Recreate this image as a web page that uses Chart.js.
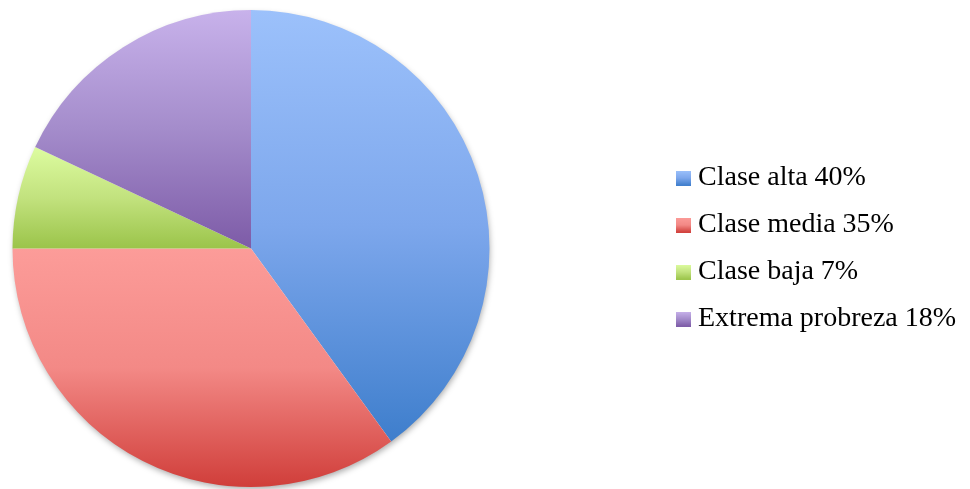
<!DOCTYPE html>
<html>
<head>
<meta charset="utf-8">
<script src="https://cdn.jsdelivr.net/npm/chart.js@4"></script>
<style>
  html, body { margin: 0; padding: 0; background: #fff; }
  #wrap { width: 970px; height: 489px; }
</style>
</head>
<body>
<div id="wrap"><canvas id="pieChart" width="970" height="489"></canvas></div>
<script>
// --- datos ---
const categories = ['Clase alta 40%', 'Clase media 35%', 'Clase baja 7%', 'Extrema probreza 18%'];
const values = [40, 35, 7, 18];

// colores (arriba claro -> abajo oscuro)
const lightColors = ['#9CC1FB', '#FC9C99', '#DDFCA0', '#C8B2EB'];
const midColors = ['#7DA7EC', '#F38986', '#C2E27E', '#A48CCB'];
const darkColors = ['#3E7ECC', '#D03E3A', '#9BC44A', '#7D5BA7'];

function addStops(g, i) {
    g.addColorStop(0, lightColors[i]);
    g.addColorStop(0.5, midColors[i]);
    g.addColorStop(1, darkColors[i]);
    return g;
}

// degradado vertical por porción, según su extensión vertical
function sliceGradient(context) {
    const chart = context.chart;
    const area = chart.chartArea;
    const i = context.dataIndex;
    if (!area) return midColors[i];
    const cx = (area.left + area.right) / 2;
    const cy = (area.top + area.bottom) / 2;
    const r = Math.min(area.width, area.height) / 2;
    const total = values.reduce((s, v) => s + v, 0);
    let a0 = 0;
    for (let j = 0; j < i; j++) a0 += values[j] / total * Math.PI * 2;
    const a1 = a0 + values[i] / total * Math.PI * 2;
    const ys = [cy, cy - r * Math.cos(a0), cy - r * Math.cos(a1)];
    if (a0 <= 0) ys.push(cy - r);
    if (a0 <= Math.PI && a1 >= Math.PI) ys.push(cy + r);
    const top = Math.min(...ys);
    const bottom = Math.max(...ys);
    return addStops(chart.ctx.createLinearGradient(0, top, 0, bottom), i);
}

// cuadritos de la leyenda con degradado
function swatch(i) {
    const c = document.createElement('canvas');
    c.width = 15; c.height = 15;
    const x = c.getContext('2d');
    x.fillStyle = addStops(x.createLinearGradient(0, 0, 0, 15), i);
    x.fillRect(0, 0, 15, 15);
    return c;
}
const swatches = categories.map((_, i) => swatch(i));

// posición del pastel y de la leyenda
const placePlugin = {
    id: 'place',
    afterLayout(chart) {
        chart.chartArea = { left: 12, top: 10, right: 490, bottom: 487, width: 478, height: 477 };
        const lg = chart.legend;
        if (lg) {
            const w = lg.width;
            lg.left = 664;
            lg.right = 664 + w;
        }
    }
};

// sombra suave detrás del pastel
const shadowPlugin = {
    id: 'pieShadow',
    beforeDatasetsDraw(chart) {
        const arc = chart.getDatasetMeta(0).data[0];
        if (!arc) return;
        const ctx = chart.ctx;
        ctx.save();
        ctx.shadowColor = 'rgba(0,0,0,0.35)';
        ctx.shadowBlur = 6;
        ctx.shadowOffsetX = 1;
        ctx.shadowOffsetY = 3;
        ctx.fillStyle = '#fff';
        ctx.beginPath();
        ctx.arc(arc.x, arc.y, arc.outerRadius - 1, 0, Math.PI * 2);
        ctx.fill();
        ctx.restore();
    }
};

const ctx = document.getElementById('pieChart').getContext('2d');
new Chart(ctx, {
    type: 'pie',
    data: {
        labels: categories,
        datasets: [{
            data: values,
            backgroundColor: sliceGradient,
            borderWidth: 0
        }]
    },
    options: {
        responsive: false,
        animation: false,
        layout: { padding: { top: 8 } },
        plugins: {
            tooltip: { enabled: false },
            legend: {
                position: 'right',
                align: 'center',
                labels: {
                    usePointStyle: true,
                    boxWidth: 1,
                    boxHeight: 15,
                    padding: 19,
                    color: '#000',
                    font: { family: "'Liberation Serif', serif", size: 28 },
                    generateLabels(chart) {
                        return categories.map((text, i) => ({
                            text,
                            pointStyle: swatches[i],
                            fillStyle: midColors[i],
                            strokeStyle: 'transparent',
                            lineWidth: 0,
                            fontColor: '#000',
                            hidden: false,
                            index: i
                        }));
                    }
                }
            }
        }
    },
    plugins: [placePlugin, shadowPlugin]
});
</script>
</body>
</html>
